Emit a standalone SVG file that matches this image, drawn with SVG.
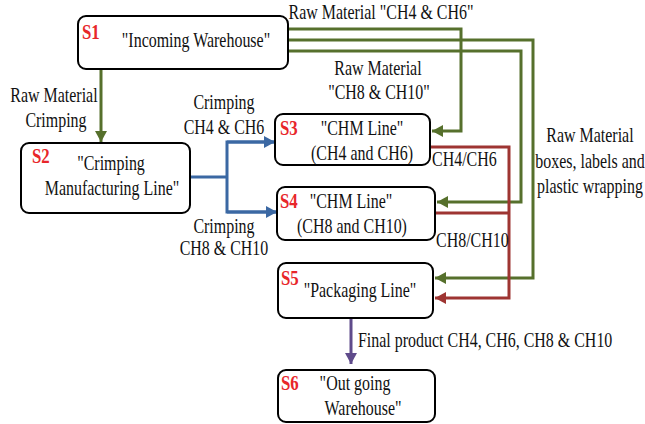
<svg xmlns="http://www.w3.org/2000/svg" width="645" height="424" viewBox="0 0 645 424">
<style>
text{font-family:"Liberation Serif","DejaVu Serif",serif;font-size:21px;fill:#111}
.m{text-anchor:middle}
.s{font-weight:bold;fill:#e8262a}
.box{fill:#fff;stroke:#000;stroke-width:2}
.g{fill:none;stroke:#56702c;stroke-width:3}
.b{fill:none;stroke:#3b68a3;stroke-width:3}
.r{fill:none;stroke:#9e3532;stroke-width:3}
.p{fill:none;stroke:#5f4b8b;stroke-width:3}
</style>
<defs>
<marker id="ag" markerUnits="userSpaceOnUse" markerWidth="12" markerHeight="12" refX="11" refY="6" orient="auto"><path d="M0,0 L11,6 L0,12 z" fill="#56702c"/></marker>
<marker id="ab" markerUnits="userSpaceOnUse" markerWidth="12" markerHeight="12" refX="11" refY="6" orient="auto"><path d="M0,0 L11,6 L0,12 z" fill="#3b68a3"/></marker>
<marker id="ar" markerUnits="userSpaceOnUse" markerWidth="12" markerHeight="12" refX="11" refY="6" orient="auto"><path d="M0,0 L11,6 L0,12 z" fill="#9e3532"/></marker>
<marker id="ap" markerUnits="userSpaceOnUse" markerWidth="12" markerHeight="12" refX="11" refY="6" orient="auto"><path d="M0,0 L11,6 L0,12 z" fill="#5f4b8b"/></marker>
</defs>
<rect width="645" height="424" fill="#fff"/>
<g id="connectors">
<polyline class="g" points="288,29 461,29 461,131 432,131" marker-end="url(#ag)"/>
<polyline class="g" points="288,40 533,40 533,278 435,278" marker-end="url(#ag)"/>
<polyline class="g" points="288,51 521,51 521,202 437,202" marker-end="url(#ag)"/>
<line class="g" x1="101" y1="69" x2="101" y2="142" marker-end="url(#ag)"/>
<polyline class="b" points="190,177 227,177"/>
<polyline class="b" points="275,142 227,142 227,212 276,212"/>
<line class="b" x1="227" y1="142" x2="275" y2="142" marker-end="url(#ab)"/>
<line class="b" x1="227" y1="212" x2="277" y2="212" marker-end="url(#ab)"/>
<polyline class="r" points="430,147 509,147 509,298 435,298" marker-end="url(#ar)"/>
<polyline class="r" points="435,213 509,213"/>
<line class="p" x1="351" y1="318" x2="351" y2="364" marker-end="url(#ap)"/>
<text class="m" transform="translate(381,19) scale(0.76,1)">Raw Material "CH4 &amp; CH6"</text>
<text class="m" transform="translate(378,75) scale(0.76,1)">Raw Material</text>
<text class="m" transform="translate(379,99) scale(0.76,1)">"CH8 &amp; CH10"</text>
<text class="m" transform="translate(54,102) scale(0.76,1)">Raw Material</text>
<text class="m" transform="translate(56,127) scale(0.76,1)">Crimping</text>
<text class="m" transform="translate(224,109) scale(0.76,1)">Crimping</text>
<text class="m" transform="translate(224,134) scale(0.76,1)">CH4 &amp; CH6</text>
<text class="m" transform="translate(224,233) scale(0.76,1)">Crimping</text>
<text class="m" transform="translate(224,255) scale(0.76,1)">CH8 &amp; CH10</text>
<text transform="translate(432,166) scale(0.76,1)">CH4/CH6</text>
<text transform="translate(436,247) scale(0.76,1)">CH8/CH10</text>
<text class="m" transform="translate(590,142) scale(0.76,1)">Raw Material</text>
<text class="m" transform="translate(590,168) scale(0.76,1)">boxes, labels and</text>
<text class="m" transform="translate(590,193) scale(0.76,1)">plastic wrapping</text>
<text transform="translate(358,347) scale(0.76,1)">Final product CH4, CH6, CH8 &amp; CH10</text>
</g>
<g id="S1">
<rect class="box" x="78" y="16" width="210" height="53" rx="8"/>
<text class="s" transform="translate(82,39) scale(0.8,1)">S1</text>
<text class="m" transform="translate(196,47) scale(0.76,1)">"Incoming Warehouse"</text>
</g>
<g id="S2">
<rect class="box" x="21" y="143" width="169" height="70" rx="8"/>
<text class="s" transform="translate(32,163) scale(0.8,1)">S2</text>
<text class="m" transform="translate(111,170) scale(0.76,1)">"Crimping</text>
<text class="m" transform="translate(112,195) scale(0.76,1)">Manufacturing Line"</text>
</g>
<g id="S3">
<rect class="box" x="275" y="114" width="155" height="51" rx="8"/>
<text class="s" transform="translate(280,135) scale(0.8,1)">S3</text>
<text class="m" transform="translate(362,135) scale(0.76,1)">"CHM Line"</text>
<text class="m" transform="translate(362,160) scale(0.76,1)">(CH4 and CH6)</text>
</g>
<g id="S4">
<rect class="box" x="277" y="187" width="158" height="53" rx="8"/>
<text class="s" transform="translate(280,208) scale(0.8,1)">S4</text>
<text class="m" transform="translate(351,208) scale(0.76,1)">"CHM Line"</text>
<text class="m" transform="translate(352,233) scale(0.76,1)">(CH8 and CH10)</text>
</g>
<g id="S5">
<rect class="box" x="278" y="263" width="155" height="55" rx="8"/>
<text class="s" transform="translate(281,285) scale(0.8,1)">S5</text>
<text class="m" transform="translate(360,297) scale(0.76,1)">"Packaging Line"</text>
</g>
<g id="S6">
<rect class="box" x="278" y="370" width="157" height="52" rx="8"/>
<text class="s" transform="translate(281,390) scale(0.8,1)">S6</text>
<text class="m" transform="translate(355,390) scale(0.76,1)">"Out going</text>
<text class="m" transform="translate(363,415) scale(0.76,1)">Warehouse"</text>
</g>
</svg>
